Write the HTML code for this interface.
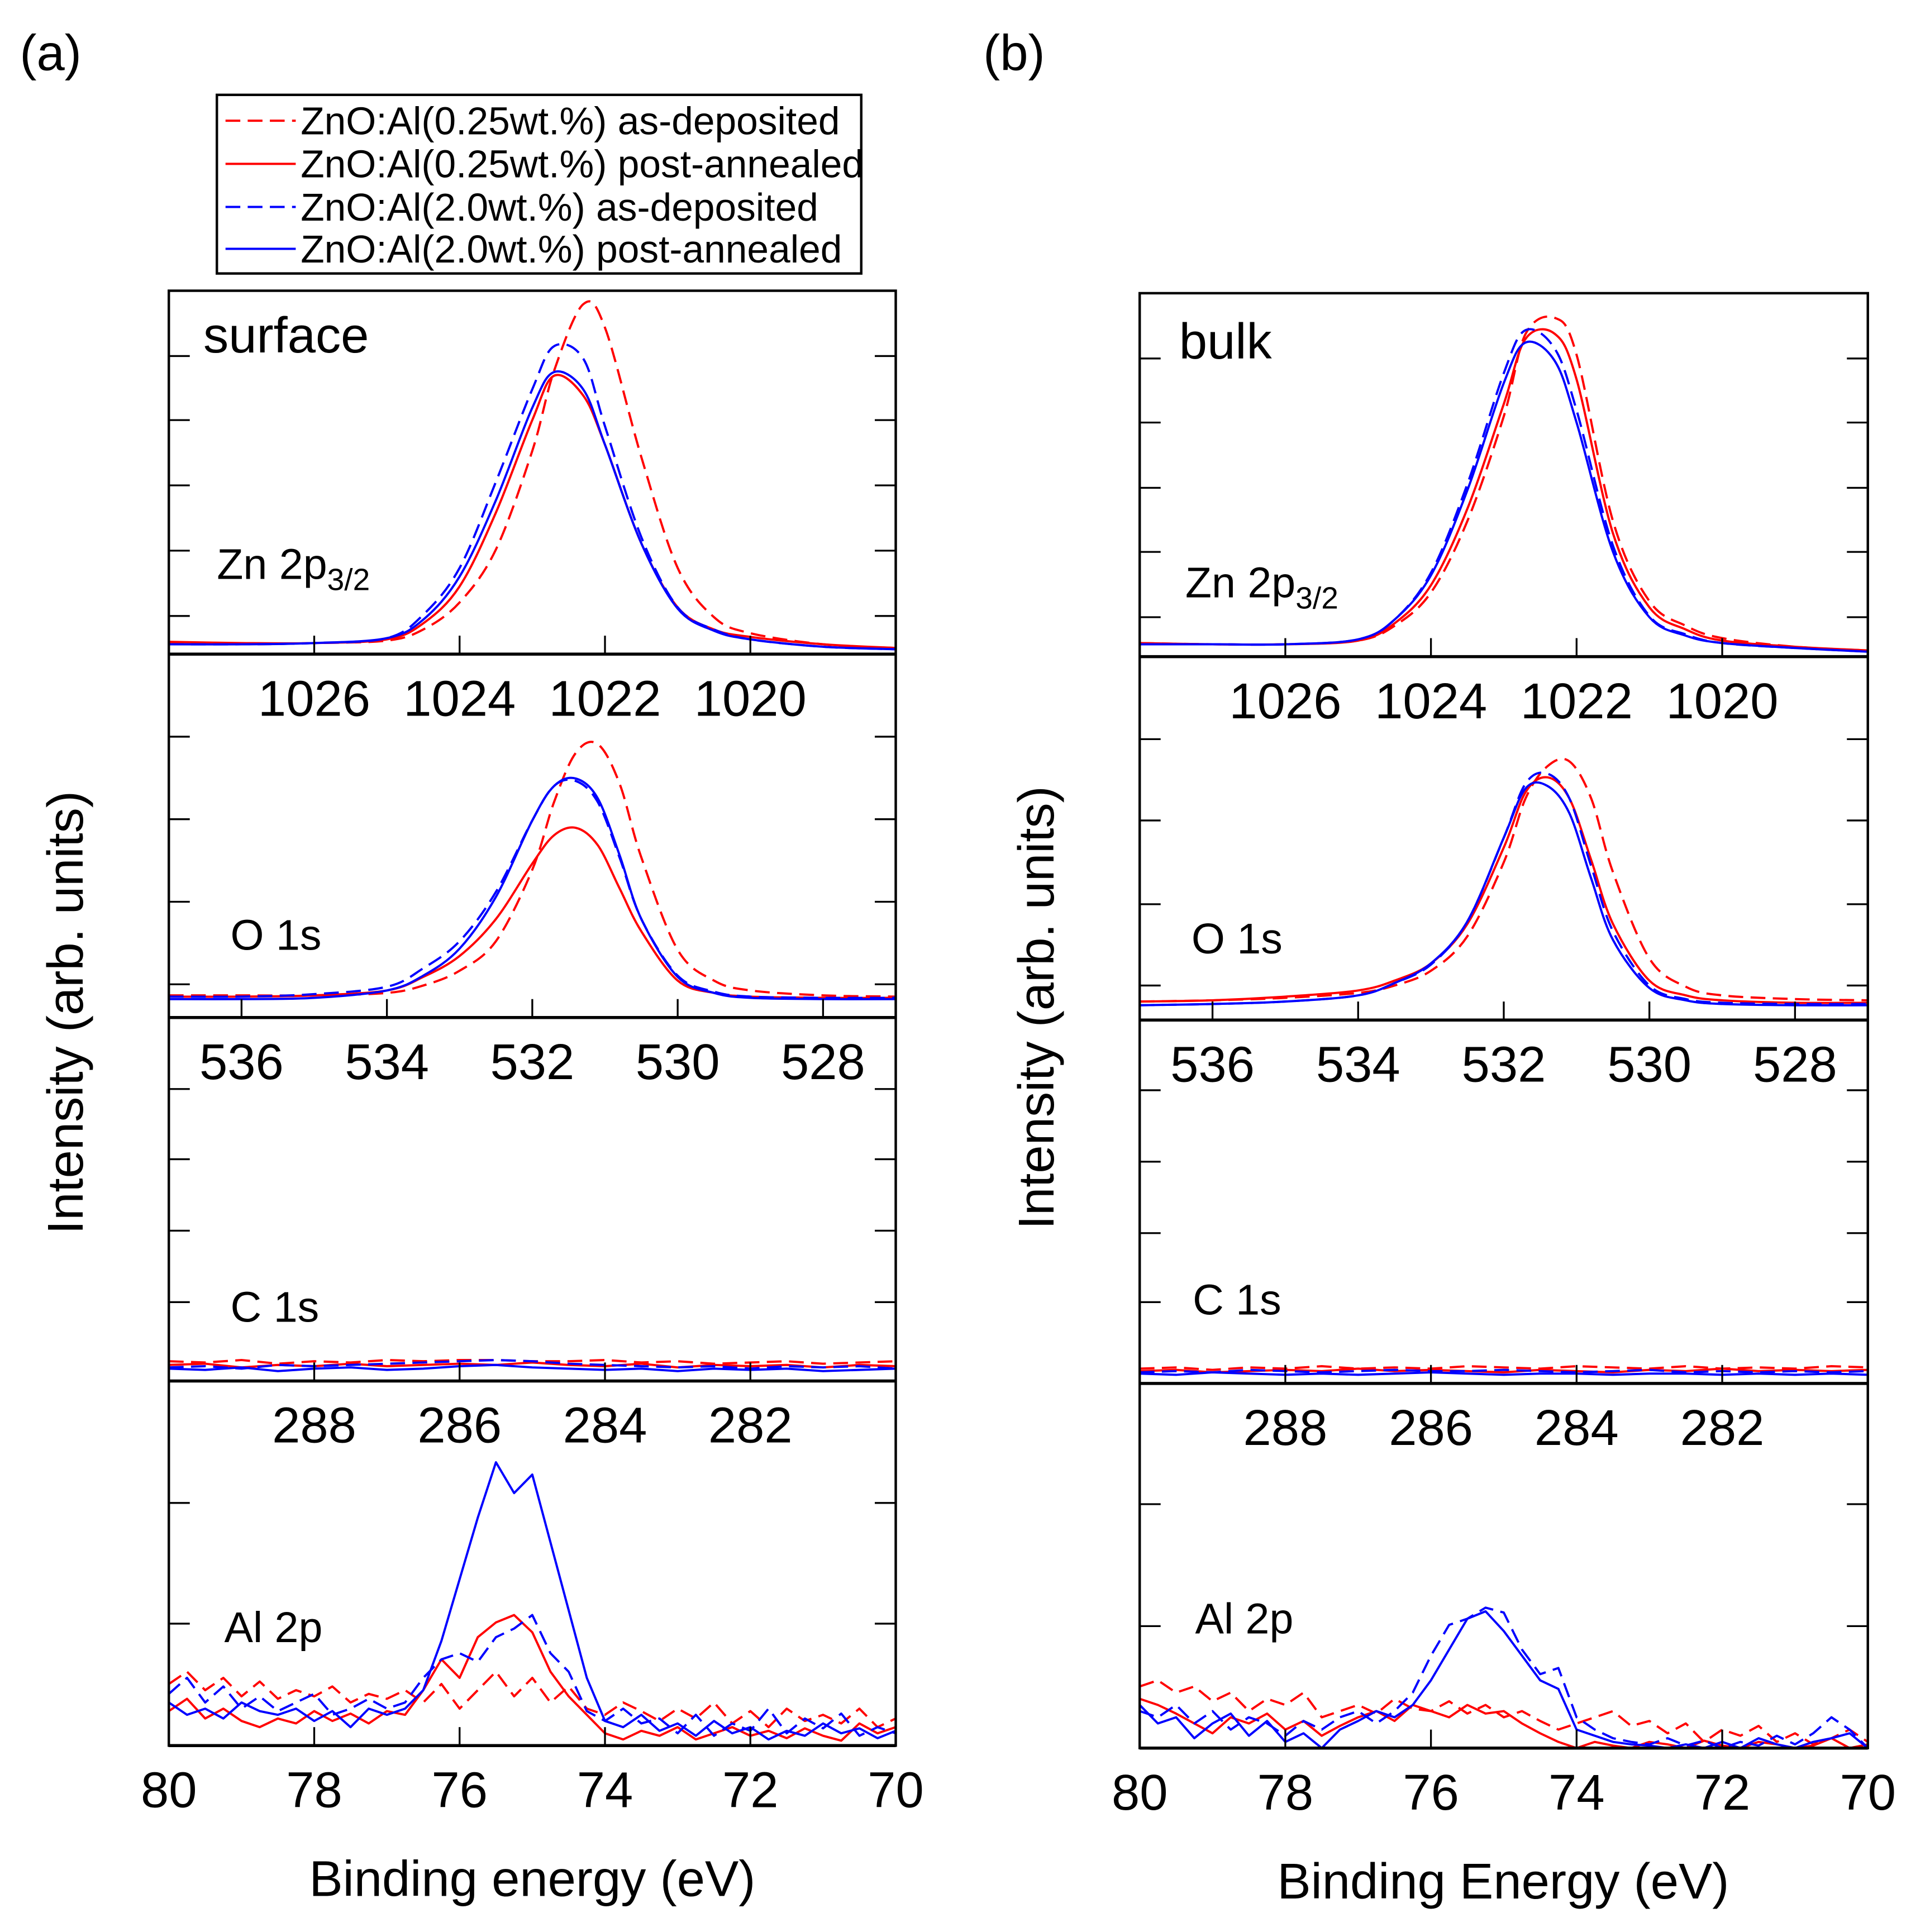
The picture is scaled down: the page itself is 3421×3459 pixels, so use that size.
<!DOCTYPE html>
<html><head><meta charset="utf-8"><style>
html,body{margin:0;padding:0;background:#fff;}
svg{display:block;}
text{font-family:"Liberation Sans",Arial,sans-serif;fill:#000;}
</style></head>
<body>
<svg id="fig" xmlns="http://www.w3.org/2000/svg" width="3421" height="3459" viewBox="0 0 1551 1568.3">
<rect x="0" y="0" width="1551" height="1568.3" fill="#fff"/>
<text x="16" y="57" font-size="41">(a)</text>
<text x="798" y="57" font-size="41">(b)</text>
<g>
<rect x="176" y="77" width="523" height="145" fill="#fff" stroke="#000" stroke-width="2"/>
<g><line x1="183" y1="98" x2="240" y2="98" stroke="#f00" stroke-width="1.8" stroke-dasharray="12,6"/><text x="244" y="109" font-size="31.5">ZnO:Al(0.25wt.%) as-deposited</text></g>
<g><line x1="183" y1="133" x2="240" y2="133" stroke="#f00" stroke-width="1.8"/><text x="244" y="144" font-size="31.5">ZnO:Al(0.25wt.%) post-annealed</text></g>
<g><line x1="183" y1="168" x2="240" y2="168" stroke="#00f" stroke-width="1.8" stroke-dasharray="12,6"/><text x="244" y="179" font-size="31.5">ZnO:Al(2.0wt.%) as-deposited</text></g>
<g><line x1="183" y1="202" x2="240" y2="202" stroke="#00f" stroke-width="1.8"/><text x="244" y="213" font-size="31.5">ZnO:Al(2.0wt.%) post-annealed</text></g>
</g>
<text x="0" y="0" font-size="41" transform="translate(67,822) rotate(-90)" text-anchor="middle">Intensity (arb. units)</text>
<text x="0" y="0" font-size="41" transform="translate(855,818) rotate(-90)" text-anchor="middle">Intensity (arb. units)</text>
<text x="432" y="1539" font-size="41" text-anchor="middle">Binding energy (eV)</text>
<text x="1220" y="1541" font-size="41" text-anchor="middle">Binding Energy (eV)</text>
<g id="plots"></g>
</svg>
<script>
// ---- data ----
const Ezn=[1028,1027,1026,1025,1024.5,1024,1023.5,1023,1022.7,1022.3,1022,1021.5,1021,1020.5,1020,1019,1018];
const Eo=[537,536,535,534,533.5,533,532.5,532,531.7,531.4,531.1,530.8,530.5,530,529.5,529,528,527];
const Ec=[290,289.5,289,288.5,288,287.5,287,286.5,286,285.5,285,284.5,284,283.5,283,282.5,282,281.5,281,280.5,280];
const Eal=[80,79.75,79.5,79.25,79,78.75,78.5,78.25,78,77.75,77.5,77.25,77,76.75,76.5,76.25,76,75.75,75.5,75.25,75,74.75,74.5,74.25,74,73.75,73.5,73.25,73,72.75,72.5,72.25,72,71.75,71.5,71.25,71,70.75,70.5,70.25,70];
const znTicks=[1026,1024,1022,1020];
const oTicks=[536,534,532,530,528];
const cTicks=[288,286,284,282];
const alTicks=[80,78,76,74,72,70];
// surface (a)
const aZnRedDash=[9,8,9,11,20,42,85,165,230,284,265,160,70,30,17,8,5];
const aZnRed=[10,9,9,12,25,55,115,190,226,210,170,90,38,20,14,8,5];
const aZnBlueDash=[8,8,9,13,32,70,140,215,250,240,185,95,38,20,12,6,4];
const aZnBlue=[8,8,9,13,28,63,125,200,229,215,170,90,37,19,12,6,4];
const aORedDash=[18,18,18,20,26,38,62,120,175,215,222,190,130,55,30,22,18,17];
const aORed=[17,17,18,22,33,50,80,125,148,154,140,105,70,30,20,17,16,16];
const aOBlueDash=[17,17,19,25,40,62,102,160,188,192,175,130,80,34,21,17,16,16];
const aOBlue=[15,15,16,22,34,56,98,160,188,194,178,132,80,33,20,16,15,15];
const aCRedDash=[16,15,17,14,16,15,17,16,17,17,16,16,17,15,16,14,15,16,14,15,16];
const aCRed=[13,14,11,13,12,14,12,13,14,13,15,13,12,14,11,13,12,13,11,13,12];
const aCBlueDash=[11,12,10,13,12,13,14,15,16,17,16,14,13,12,11,12,10,12,11,12,10];
const aCBlue=[10,9,11,8,10,11,9,10,12,13,11,10,9,10,8,10,9,10,8,9,10];
const aAlBlue=[35,25,30,22,35,28,25,30,20,28,15,30,25,30,45,85,135,185,230,205,220,165,110,55,20,15,25,12,18,8,20,10,15,5,12,8,18,10,14,6,12];
const aAlRed=[28,38,22,30,20,15,22,18,28,20,26,18,28,25,45,70,55,88,100,106,92,60,40,25,10,5,12,8,15,5,10,15,8,12,6,14,8,4,18,10,15];
const aAlBlueDash=[42,55,35,48,30,40,28,35,42,25,30,38,30,35,55,70,75,68,88,95,106,75,60,28,20,30,18,22,10,25,8,18,12,30,10,22,14,26,8,15,10];
const aAlRedDash=[50,60,45,55,40,52,38,45,40,48,35,42,38,45,35,50,30,45,60,40,55,35,48,30,25,35,28,20,30,22,35,18,28,15,30,20,25,18,30,15,22];
// bulk (b)
const bZnRedDash=[11,10,10,13,25,52,110,195,262,275,245,110,45,25,15,8,5];
const bZnRed=[11,10,10,13,27,58,120,205,258,262,225,100,40,22,13,8,5];
const bZnBlueDash=[10,10,10,14,30,68,140,230,265,250,200,90,33,18,11,7,4];
const bZnBlue=[10,10,10,14,30,66,135,222,255,240,190,85,32,17,11,7,4];
const bORedDash=[15,16,18,22,28,40,68,128,180,206,210,180,120,50,27,20,17,16];
const bORed=[15,16,19,24,32,46,78,140,185,197,180,130,78,32,20,16,14,14];
const bOBlueDash=[12,13,15,20,30,45,80,148,192,200,180,125,72,28,17,14,13,13];
const bOBlue=[12,13,15,20,30,46,80,148,188,190,168,115,65,26,16,13,12,12];
const bCRedDash=[12,13,11,13,12,14,12,13,12,14,13,12,14,13,12,14,12,13,12,14,13];
const bCRed=[10,11,9,10,11,10,12,10,11,10,9,11,10,9,11,10,12,10,11,10,11];
const bCBlueDash=[9,10,9,11,10,9,10,11,10,10,11,10,9,10,11,9,10,9,10,9,10];
const bCBlue=[8,7,9,8,7,8,7,8,9,8,7,8,8,7,8,8,7,8,7,8,7];
const bAlBlueDash=[30,25,35,20,30,15,25,20,10,22,15,25,30,20,30,45,75,100,105,114,110,80,60,65,25,15,8,5,3,8,2,6,0,5,2,10,3,12,25,15,0];
const bAlBlue=[35,20,25,8,20,28,10,22,5,12,0,15,22,30,25,35,55,80,105,111,95,75,55,48,15,10,5,3,2,0,3,0,5,0,8,3,0,5,8,12,0];
const bAlRedDash=[50,55,45,50,38,45,30,40,35,45,25,30,35,28,40,32,30,38,28,35,25,30,22,15,20,25,30,18,22,12,20,5,15,10,18,5,12,3,8,15,5];
const bAlRed=[40,35,28,20,12,25,20,28,15,22,10,18,25,30,22,35,30,25,35,28,30,20,12,5,0,5,2,0,5,3,0,6,2,0,5,3,0,2,8,0,3];

// ---- layout ----
const NS="http://www.w3.org/2000/svg";
const root=document.getElementById('plots');
function mk(tag,attrs,parent){const e=document.createElementNS(NS,tag);for(const k in attrs)e.setAttribute(k,attrs[k]);(parent||root).appendChild(e);return e;}
function smoothPath(pts){
  let d='M'+pts[0][0].toFixed(2)+','+pts[0][1].toFixed(2);
  for(let i=0;i<pts.length-1;i++){
    const p0=pts[Math.max(0,i-1)],p1=pts[i],p2=pts[i+1],p3=pts[Math.min(pts.length-1,i+2)];
    const c1=[p1[0]+(p2[0]-p0[0])/6,p1[1]+(p2[1]-p0[1])/6];
    const c2=[p2[0]-(p3[0]-p1[0])/6,p2[1]-(p3[1]-p1[1])/6];
    d+='C'+c1[0].toFixed(2)+','+c1[1].toFixed(2)+' '+c2[0].toFixed(2)+','+c2[1].toFixed(2)+' '+p2[0].toFixed(2)+','+p2[1].toFixed(2);
  }
  return d;
}
function polyPath(pts){return 'M'+pts.map(p=>p[0].toFixed(2)+','+p[1].toFixed(2)).join('L');}

const panels=[
 {id:'a',x0:137,x1:727,rows:[[236,531],[531,826],[826,1121],[1121,1417]],
  yt:[[289,341,394,447,500],[598,665,732,799],[884,941,999,1057],[1220,1318]],
  series:[[aZnRedDash,aZnRed,aZnBlueDash,aZnBlue],[aORedDash,aORed,aOBlueDash,aOBlue],[aCRedDash,aCRed,aCBlueDash,aCBlue],[aAlRedDash,aAlRed,aAlBlueDash,aAlBlue]],
  labels:[[176,470],[187,771],[187,1073],[182,1333]],title:['surface',165,286]},
 {id:'b',x0:925,x1:1516,rows:[[238,533],[533,828],[828,1123],[1123,1419]],
  yt:[[291,343,396,448,501],[600,666,734,800],[885,943,1001,1057],[1221,1320]],
  series:[[bZnRedDash,bZnRed,bZnBlueDash,bZnBlue],[bORedDash,bORed,bOBlueDash,bOBlue],[bCRedDash,bCRed,bCBlueDash,bCBlue],[bAlRedDash,bAlRed,bAlBlueDash,bAlBlue]],
  labels:[[962,485],[967,774],[968,1067],[970,1326]],title:['bulk',957,291]}
];
const doms=[[1028,1018],[537,527],[290,280],[80,70]];
const grids=[Ezn,Eo,Ec,Eal];
const ticks=[znTicks,oTicks,cTicks,alTicks];
const rowNames=['zn-2p','o-1s','c-1s','al-2p'];
const styles=[['#f00','12,6'],['#f00',''],['#00f','12,6'],['#00f','']];
const seriesNames=['025-as-deposited','025-post-annealed','20-as-deposited','20-post-annealed'];
const labelTexts=['Zn 2p','O 1s','C 1s','Al 2p'];

panels.forEach(P=>{
  const g=mk('g',{});
  
  
  P.rows.forEach((r,ri)=>{
    const [top,bot]=r;
    const d=doms[ri];
    const xs=v=>P.x0+(d[0]-v)/(d[0]-d[1])*(P.x1-P.x0);
    const ys=h=>bot-h;
    const sg=mk('g',{},g);
    
    
    const cid='clip-'+P.id+ri;
    const cp=mk('clipPath',{id:cid},sg);
    mk('rect',{x:P.x0,y:top,width:P.x1-P.x0,height:bot-top},cp);
    const sgl=mk('g',{'clip-path':'url(#'+cid+')'},sg);
    P.series[ri].forEach((vals,si)=>{
      const pts=grids[ri].map((e,i)=>[xs(e),ys(vals[i])]);
      const d2=(ri<2)?smoothPath(pts):polyPath(pts);
      const p=mk('path',{d:d2,fill:'none',stroke:styles[si][0],'stroke-width':1.8,'stroke-linejoin':'round'},sgl);
      if(styles[si][1])p.setAttribute('stroke-dasharray',styles[si][1]);
      
      
    });
    P.yt[ri].forEach(yv=>{
      const t1=mk('line',{x1:P.x0,y1:yv,x2:P.x0+17,y2:yv,stroke:'#000','stroke-width':1.5},sg);
      
      
      const t2=mk('line',{x1:P.x1-17,y1:yv,x2:P.x1,y2:yv,stroke:'#000','stroke-width':1.5},sg);
      
      
    });
    ticks[ri].forEach(tv=>{
      const x=xs(tv);
      const tl=mk('line',{x1:x,y1:bot,x2:x,y2:bot-15,stroke:'#000','stroke-width':1.5},sg);
      
      
      const tx=mk('text',{x:x,y:bot+50,'font-size':41,'text-anchor':'middle'},sg);
      tx.textContent=String(tv);
      
      
    });
    const al=mk('line',{x1:P.x0,y1:bot,x2:P.x1,y2:bot,stroke:'#000','stroke-width':2.5},sg);
    
    
    const lb=mk('text',{x:P.labels[ri][0],y:P.labels[ri][1],'font-size':35},sg);
    lb.textContent=labelTexts[ri];
    if(ri===0){const sub=mk('tspan',{'font-size':25,dy:9},lb);sub.textContent='3/2';}
    
    
  });
  const fr=mk('rect',{x:P.x0,y:P.rows[0][0],width:P.x1-P.x0,height:P.rows[3][1]-P.rows[0][0],fill:'none',stroke:'#000','stroke-width':2},g);
  
  
  const tt=mk('text',{x:P.title[1],y:P.title[2],'font-size':41},g);
  tt.textContent=P.title[0];
  
  
});
</script>
</body></html>
